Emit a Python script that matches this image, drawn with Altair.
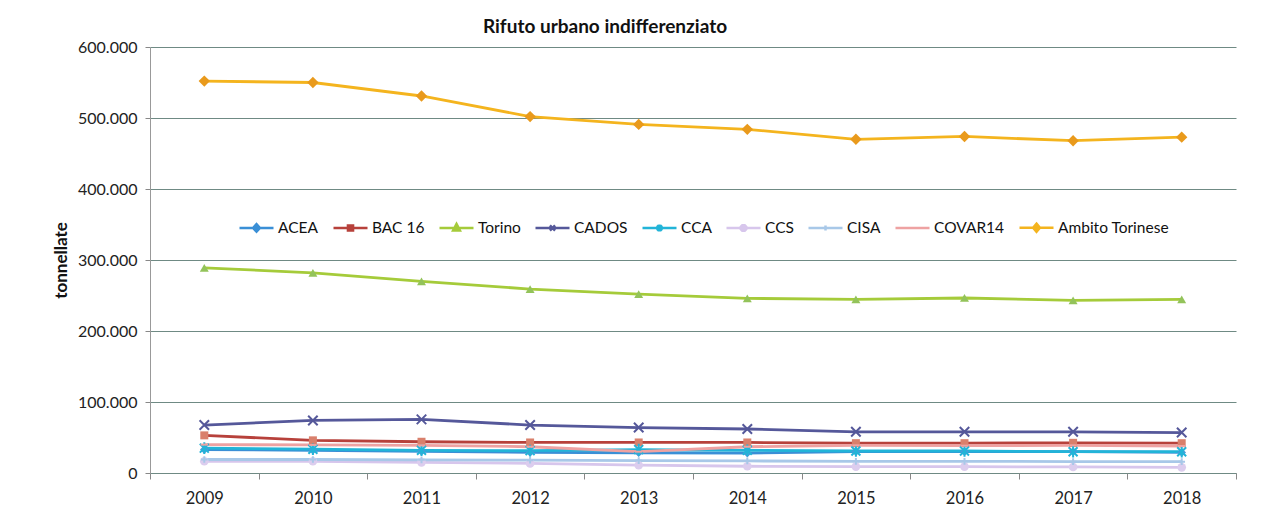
import altair as alt
import pandas as pd

years = [2009, 2010, 2011, 2012, 2013, 2014, 2015, 2016, 2017, 2018]
series_names = ["ACEA", "BAC 16", "Torino", "CADOS", "CCA", "CCS", "CISA", "COVAR14", "Ambito Torinese"]

acea = [33000, 32000, 30500, 29000, 28500, 28000, 30000, 30000, 30000, 29000]
bac16 = [53000, 46000, 44000, 43000, 43000, 43000, 42000, 42000, 42500, 42000]
torino = [289000, 282000, 270000, 259000, 252000, 246000, 244500, 246500, 243000, 244500]
cados = [67500, 74000, 75500, 67500, 64000, 62000, 58000, 58000, 58000, 57000]
cca = [35000, 33500, 32000, 31500, 33000, 32000, 31000, 31000, 30000, 30000]
ccs = [16500, 16500, 15000, 13500, 11000, 9500, 9000, 9000, 8500, 8000]
cisa = [19000, 19000, 18500, 18000, 17500, 17000, 16500, 16500, 16000, 16000]
covar14 = [40000, 39500, 39000, 37000, 30000, 37000, 39000, 38500, 39000, 38000]
ambito = [552000, 550000, 531000, 502000, 491000, 484000, 470000, 474000, 468000, 473000]

series_values = [acea, bac16, torino, cados, cca, ccs, cisa, covar14, ambito]

line_colors = ["#3a8fd6", "#b7413b", "#a5cb3a", "#55589a", "#22b4d8",
               "#d7c6ec", "#a8c8e8", "#eea2a2", "#f4b41e"]
marker_colors = ["#4a9ad8", "#d9806c", "#93c35a", "#6a6ea8", "#33b8dc",
                 "#dccdee", "#b0cde9", "#f0a8a8", "#e99a1c"]

X_PATH = "M-1,-1L1,1M-1,1L1,-1"
AST_PATH = "M-1,-1L1,1M-1,1L1,-1M0,-1.3V1.3"
PLUS_PATH = "M-1,0H1M0,-1V1"
DASH_PATH = "M-1,0H1"
marker_shapes = ["diamond", "square", "triangle-up", X_PATH, AST_PATH, "circle", PLUS_PATH, DASH_PATH, "diamond"]
marker_filled = [True, True, True, False, False, True, False, False, True]
marker_sizes = [75, 64, 80, 90, 80, 75, 45, 55, 130]

LINE = "M-1,0H1"
legend_paths = [
    LINE + "M0,-0.22L0.2,0L0,0.22L-0.2,0Z",
    LINE + "M-0.15,-0.15H0.15V0.15H-0.15Z",
    LINE + "M0,-0.24L0.2,0.14H-0.2Z",
    LINE + "M-0.15,-0.15L0.15,0.15M-0.15,0.15L0.15,-0.15",
    LINE + "M-0.15,-0.15L0.15,0.15M-0.15,0.15L0.15,-0.15M0,-0.2V0.2",
    LINE + "M-0.07,-0.16L0.07,-0.16L0.16,-0.07L0.16,0.07L0.07,0.16L-0.07,0.16L-0.16,0.07L-0.16,-0.07Z",
    LINE + "M0,-0.15V0.15",
    LINE,
    LINE + "M0,-0.24L0.2,0L0,0.24L-0.2,0Z",
]

tick_positions = [2008.5, 2009.5, 2010.5, 2011.5, 2012.5, 2013.5, 2014.5, 2015.5, 2016.5, 2017.5, 2018.5]
y_ticks = [0, 100000, 200000, 300000, 400000, 500000, 600000]

rows = []
for name, vals in zip(series_names, series_values):
    for yr, v in zip(years, vals):
        rows.append({"series": name, "year": yr, "value": v})
df = pd.DataFrame(rows)

FONT = "Lato"
GRID = "#6f8a84"

x_scale = alt.Scale(domain=[2008.5, 2018.5], nice=False, zero=False)
y_scale = alt.Scale(domain=[0, 600000], nice=False)
line_scale = alt.Scale(domain=series_names, range=line_colors)
marker_scale = alt.Scale(domain=series_names, range=marker_colors)
legend_shape_scale = alt.Scale(domain=series_names, range=legend_paths)

x_label_axis = alt.Axis(values=years, format="d", ticks=False, labelPadding=17,
                        domain=True, domainColor=GRID, domainWidth=1, grid=False,
                        title=None, orient="bottom", labelFontSize=16.5,
                        labelFont=FONT, labelColor="#222")
x_tick_axis = alt.Axis(values=tick_positions, labels=False, ticks=True, tickSize=6,
                       tickColor="#888", domain=False, grid=False, title=None,
                       orient="bottom")
y_axis = alt.Axis(values=y_ticks, labelExpr="replace(format(datum.value, ','), ',', '.')",
                  grid=True, gridColor=GRID, gridWidth=1, tickSize=5, tickColor="#888",
                  domain=True, domainColor="#999", labelPadding=8, labelFontSize=16,
                  labelFont=FONT, labelColor="#222", title="tonnellate",
                  titleFont=FONT, titleFontSize=17, titleFontWeight="bold",
                  titleColor="#111", titleX=-80, titleY=213, titleAngle=270)

base = alt.Chart(df)

leg = alt.Legend(orient="none", legendX=88, legendY=162, direction="horizontal",
                 symbolSize=1156, symbolStrokeWidth=2.5,
                 labelFontSize=15.5, labelFont=FONT, labelColor="#111",
                 columnPadding=9, labelOffset=3, labelLimit=300)

lines = base.mark_line(strokeWidth=2.8).encode(
    x=alt.X("year:Q", scale=x_scale, axis=x_label_axis),
    y=alt.Y("value:Q", scale=y_scale, axis=y_axis),
    color=alt.Color("series:N", scale=line_scale, legend=leg, title=None),
    shape=alt.Shape("series:N", scale=legend_shape_scale, legend=leg, title=None),
)

point_layers = []
for name, shp, filled, sz in zip(series_names, marker_shapes, marker_filled, marker_sizes):
    if filled:
        m = base.transform_filter(alt.datum.series == name).mark_point(
            shape=shp, filled=True, size=sz, opacity=1).encode(
            x=alt.X("year:Q", scale=x_scale, axis=None),
            y=alt.Y("value:Q", scale=y_scale),
            fill=alt.Fill("series:N", scale=marker_scale, legend=None),
        )
    else:
        m = base.transform_filter(alt.datum.series == name).mark_point(
            shape=shp, filled=False, size=sz, strokeWidth=2, opacity=1).encode(
            x=alt.X("year:Q", scale=x_scale, axis=None),
            y=alt.Y("value:Q", scale=y_scale),
            stroke=alt.Stroke("series:N", scale=line_scale, legend=None),
        )
    point_layers.append(m)

tick_layer = base.mark_point(opacity=0).encode(
    x=alt.X("year:Q", scale=x_scale, axis=x_tick_axis),
    y=alt.Y("value:Q", scale=y_scale),
)

chart = alt.layer(lines, *point_layers, tick_layer).resolve_axis(
    x="independent"
).properties(
    width=1086, height=426,
    autosize=alt.AutoSizeParams(type="none"),
    padding={"left": 142, "top": 39, "right": 16, "bottom": 40},
    title=alt.TitleParams("Rifuto urbano indifferenziato", font=FONT, fontSize=19,
                          fontWeight="bold", color="#111", offset=2, dx=-88),
).configure_view(stroke=None)

chart.save("out.html", embed_options={"renderer": "svg", "actions": False})
